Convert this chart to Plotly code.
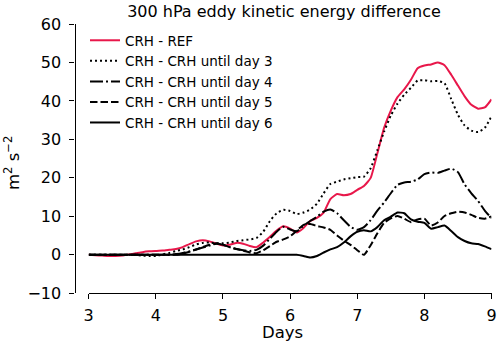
import numpy as np
import plotly.graph_objects as go

# days 3.0 .. 9.0 every 0.1
days = np.round(np.arange(3.0, 9.0001, 0.1), 1)

ref = [0, -0.1, -0.2, -0.3, -0.3, -0.2, 0.1, 0.4, 0.7, 0.9,
       1.0, 1.1, 1.3, 1.5, 2.0, 2.8, 3.5, 3.8, 3.5, 2.9,
       2.4, 2.6, 3.1, 2.9, 2.3, 2.0, 3.2, 4.7, 6.3, 7.4,
       6.8, 5.8, 7.0, 8.8, 9.6, 11.0, 14.5, 15.8, 15.5, 15.8,
       16.9, 17.9, 20.0, 26.4, 33.0, 37.5, 41.0, 43.0, 45.5, 48.5,
       49.2, 49.5, 50.0, 49.3, 46.8, 44.0, 41.2, 39.0, 38.0, 38.3,
       40.4]
day3 = [0, 0, 0, 0, 0, 0, 0, 0, -0.2, -0.3,
        -0.3, 0.1, 0.5, 1.0, 1.4, 2.0, 2.7, 3.1, 3.2, 3.0,
        3.0, 3.2, 3.6, 3.8, 4.0, 4.4, 6.0, 8.8, 10.8, 11.7,
        11.4, 10.6, 11.0, 11.8, 13.3, 16.0, 18.4, 19.0, 19.6, 19.9,
        20.2, 20.3, 22.5, 27.2, 32.0, 36.2, 39.3, 41.6, 43.4, 45.3,
        45.4, 45.1, 45.2, 44.6, 40.5, 36.4, 33.6, 32.3, 31.9, 33.0,
        36.0]
day4 = [0, 0, 0, 0, 0, 0, 0, 0, 0, 0,
        0, 0, 0, 0.2, 0.5, 0.9, 1.4, 1.9, 2.4, 2.9,
        2.6, 2.0, 1.5, 1.2, 1.0, 1.3, 2.4, 4.2, 6.0, 7.3,
        6.6, 6.1, 7.6, 8.8, 9.9, 11.2, 11.8, 10.8, 9.0, 7.3,
        6.5, 7.2, 9.0, 11.5, 13.6, 16.0, 18.2, 18.8, 19.0, 19.6,
        21.0, 21.4, 21.3, 21.9, 22.4, 21.5, 18.3, 16.0, 14.0, 11.5,
        9.5]
day5 = [0, 0, 0, 0, 0, 0, 0, 0, 0, 0,
        0, 0, 0, 0, 0.3, 0.8, 1.4, 2.0, 2.6, 3.0,
        2.6, 2.0, 1.5, 1.1, 0.6, 0.4, 1.2, 2.3, 3.4, 4.0,
        4.8, 6.3, 7.8, 8.0, 7.5, 7.1, 6.5, 5.0, 3.7, 2.6,
        1.2, 0.0, 2.5, 5.6, 8.3, 9.5, 10.1, 9.4, 8.5, 9.2,
        9.4, 7.6, 8.4, 10.1, 10.8, 11.2, 11.0, 10.4, 9.6, 9.4,
        10.0]
day6 = [0, 0, 0, 0, 0, 0, 0, 0, 0, 0,
        0, 0, 0, 0, 0, 0, 0, 0, 0, 0,
        0, 0, 0, 0, 0, 0, 0, 0, 0, 0,
        0, 0, -0.3, -0.7, -0.3, 0.6, 1.4, 2.0, 3.2, 4.8,
        6.0, 6.4, 6.1, 7.2, 9.0, 9.9, 11.0, 10.8, 9.2, 8.6,
        8.3, 6.8, 7.2, 7.6, 6.2, 4.6, 3.6, 3.0, 2.8, 2.2,
        1.5]

names = ["CRH - REF", "CRH - CRH until day 3", "CRH - CRH until day 4",
         "CRH - CRH until day 5", "CRH - CRH until day 6"]
series = [ref, day3, day4, day5, day6]
colors = ["#e8174a", "black", "black", "black", "black"]
dashes = ["solid", "2px,3px", "13px,3px,2px,3px", "7.5px,3px", "solid"]

W, H = 500, 344
fnt = "DejaVu Sans"

fig = go.Figure()
for nm, ys, c, d in zip(names, series, colors, dashes):
    fig.add_trace(go.Scatter(x=days, y=ys, name=nm, mode="lines",
                             line=dict(color=c, width=2, dash=d, shape="spline", smoothing=0.5)))

fig.update_layout(
    width=W, height=H, margin=dict(l=0, r=0, t=0, b=0),
    paper_bgcolor="white", plot_bgcolor="white",
    font=dict(family=fnt, color="black"),
    title=dict(text="300 hPa eddy kinetic energy difference", x=284 / W, y=1 - 11 / H,
               xanchor="center", yanchor="middle", font=dict(size=16, family=fnt)),
    legend=dict(x=85 / W, y=1 - 25 / H, xanchor="left", yanchor="top",
                bgcolor="rgba(0,0,0,0)", font=dict(size=13.5, family=fnt), tracegroupgap=0),
    xaxis=dict(domain=[88.7 / W, 491.5 / W], range=[3, 9], anchor="free", position=1 - 293.3 / H,
               automargin=False,
               showgrid=False, zeroline=False, showline=True, linecolor="black", linewidth=1.2,
               ticks="outside", ticklen=5, tickwidth=1.2, tickcolor="black", dtick=1,
               tickfont=dict(size=16), ticklabelstandoff=2),
    yaxis=dict(domain=[1 - 293.3 / H, 1 - 24 / H], range=[-10, 60], anchor="free", position=74.5 / W,
               automargin=False,
               showgrid=False, zeroline=False, showline=True, linecolor="black", linewidth=1.2,
               ticks="outside", ticklen=5, tickwidth=1.2, tickcolor="black", dtick=10,
               tickfont=dict(size=16), ticklabelstandoff=5),
)
fig.add_annotation(text="Days", x=282 / W, y=1 - 332 / H, xref="paper", yref="paper",
                   showarrow=False, xanchor="center", yanchor="middle", font=dict(size=16.5))
fig.add_annotation(text="m<sup>2</sup> s<sup>\u22122</sup>", x=12 / W, y=1 - 163 / H, xref="paper", yref="paper",
                   showarrow=False, textangle=-90, xanchor="center", yanchor="middle", font=dict(size=16.5))

# page body has a default 8px margin; drop it so the figure fills the window
fig.write_html("out.html", config={"displayModeBar": False},
               post_script="document.body.style.margin='0';")
